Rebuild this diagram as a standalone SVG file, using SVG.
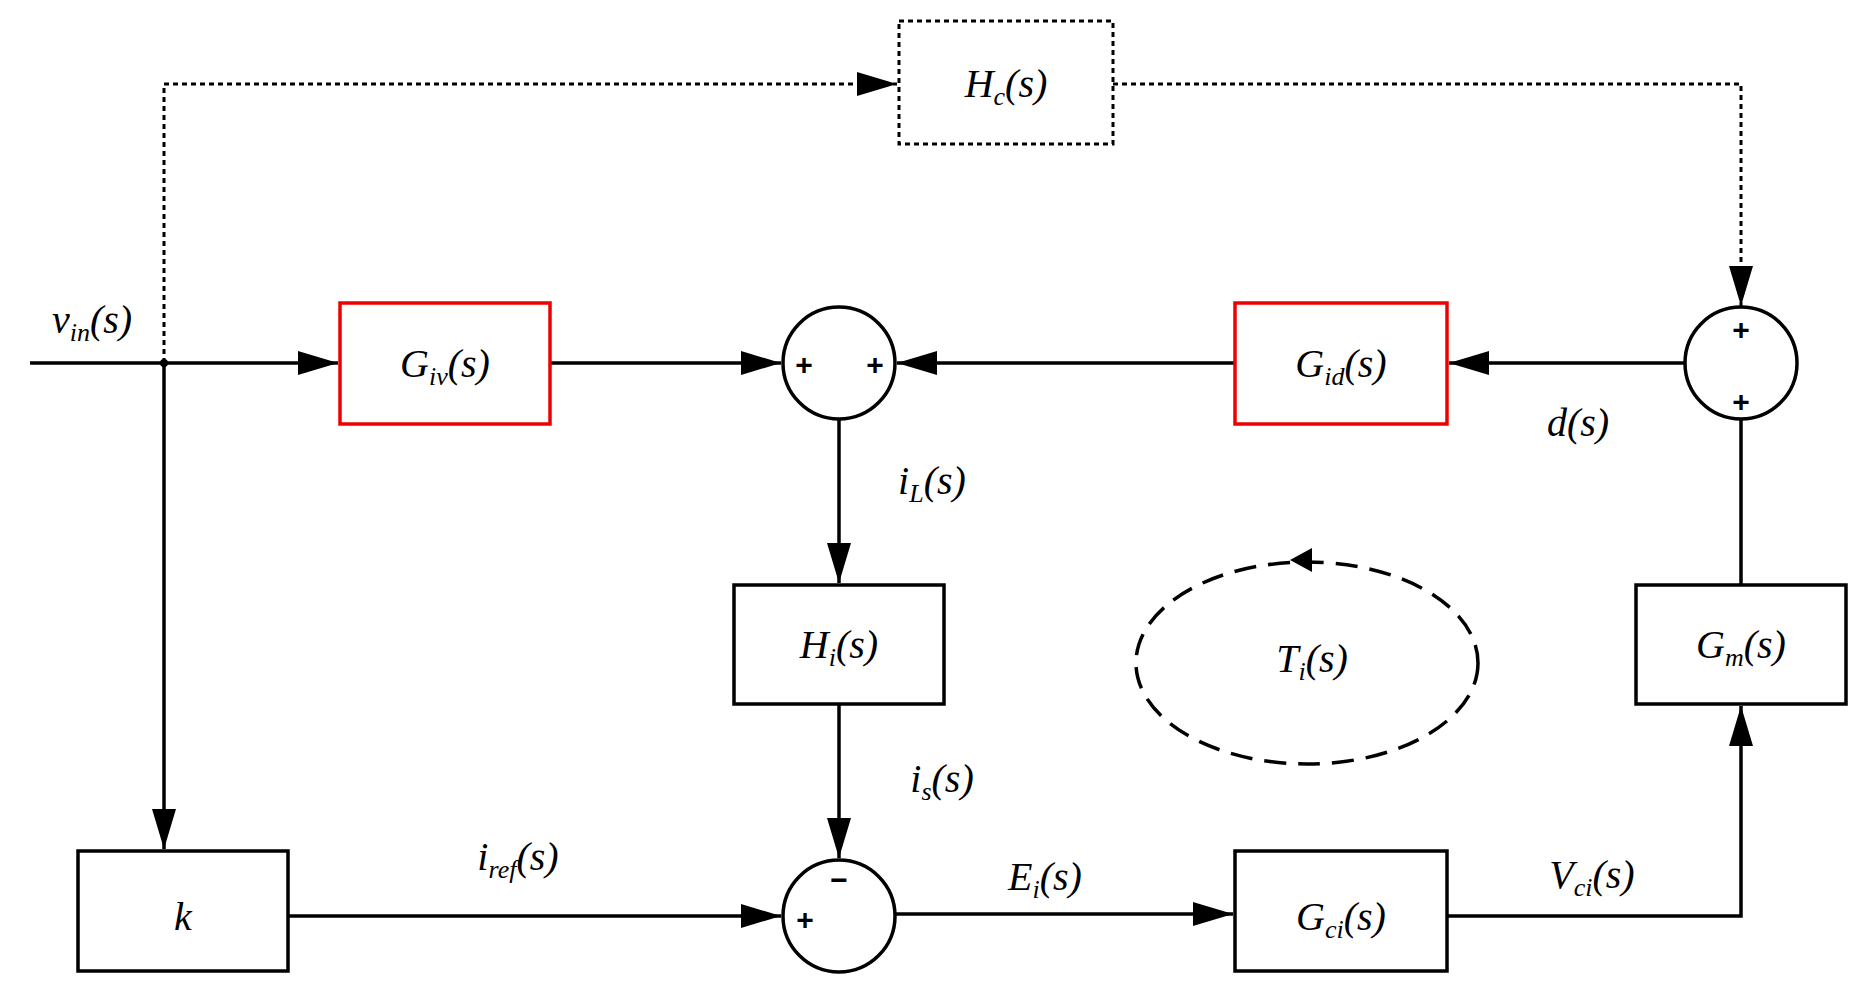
<svg xmlns="http://www.w3.org/2000/svg" width="1863" height="990" viewBox="0 0 1863 990">
<style>
.b{fill:#fff;stroke:#000;stroke-width:3.5}
.r{fill:#fff;stroke:#e00;stroke-width:3.5}
.l{fill:none;stroke:#000;stroke-width:3.5}
.d{fill:none;stroke:#000;stroke-width:3;stroke-dasharray:5 4}
.t{font-family:"Liberation Serif",serif;font-style:italic;font-size:40px;text-anchor:middle}
.s{font-size:26px}
.p{font-family:"Liberation Sans",sans-serif;font-weight:bold;font-size:30px;text-anchor:middle}
</style>
<defs>
<marker id="a" markerWidth="12" markerHeight="10" refX="12" refY="5" orient="auto" markerUnits="userSpaceOnUse" viewBox="0 0 12 10"><path d="M0,0L12,5L0,10z"/></marker>
<marker id="A" markerWidth="40" markerHeight="24" refX="40" refY="12" orient="auto" markerUnits="userSpaceOnUse"><path d="M0,0L40,12L0,24z"/></marker>
</defs>
<g id="connectors">
<path class="d" d="M164,363V84H897" marker-end="url(#A)"/>
<path class="d" d="M1113,84H1741V306" marker-end="url(#A)"/>
<path class="l" d="M30,363H338" marker-end="url(#A)"/>
<circle cx="164" cy="363" r="4"/>
<path class="l" d="M550,363H781" marker-end="url(#A)"/>
<path class="l" d="M1235,363H897" marker-end="url(#A)"/>
<path class="l" d="M1685,363H1449" marker-end="url(#A)"/>
<path class="l" d="M839,419V583" marker-end="url(#A)"/>
<path class="l" d="M839,704V858" marker-end="url(#A)"/>
<path class="l" d="M164,363V849" marker-end="url(#A)"/>
<path class="l" d="M288,916H781" marker-end="url(#A)"/>
<path class="l" d="M895,914H1233" marker-end="url(#A)"/>
<path class="l" d="M1447,916H1741V706" marker-end="url(#A)"/>
<path class="l" d="M1741,585V419"/>
</g>
<g id="Hc"><rect x="899" y="21" width="214" height="123" fill="#fff" stroke="#000" stroke-width="3" stroke-dasharray="5 4"/><text class="t" x="1006" y="97">H<tspan class="s" dy="8">c</tspan><tspan dy="-8">(s)</tspan></text></g>
<g id="Giv"><rect class="r" x="340" y="303" width="210" height="121"/><text class="t" x="445" y="377">G<tspan class="s" dy="8">iv</tspan><tspan dy="-8">(s)</tspan></text></g>
<g id="Gid"><rect class="r" x="1235" y="303" width="212" height="121"/><text class="t" x="1341" y="377">G<tspan class="s" dy="8">id</tspan><tspan dy="-8">(s)</tspan></text></g>
<g id="sum1"><circle class="b" cx="839" cy="363" r="56"/><text class="p" x="804" y="375">+</text><text class="p" x="875" y="375">+</text></g>
<g id="sum2"><circle class="b" cx="1741" cy="363" r="56"/><text class="p" x="1741" y="340">+</text><text class="p" x="1741" y="412">+</text></g>
<g id="sum3"><circle class="b" cx="839" cy="916" r="56"/><text class="p" x="839" y="890">−</text><text class="p" x="805" y="930">+</text></g>
<g id="Hi"><rect class="b" x="734" y="585" width="210" height="119"/><text class="t" x="839" y="658">H<tspan class="s" dy="8">i</tspan><tspan dy="-8">(s)</tspan></text></g>
<g id="Gm"><rect class="b" x="1636" y="585" width="210" height="119"/><text class="t" x="1741" y="658">G<tspan class="s" dy="8">m</tspan><tspan dy="-8">(s)</tspan></text></g>
<g id="k"><rect class="b" x="78" y="851" width="210" height="120"/><text class="t" x="183" y="930">k</text></g>
<g id="Gci"><rect class="b" x="1235" y="851" width="212" height="120"/><text class="t" x="1341" y="930">G<tspan class="s" dy="8">ci</tspan><tspan dy="-8">(s)</tspan></text></g>
<g id="Ti"><ellipse cx="1307" cy="663" rx="171" ry="101" fill="none" stroke="#000" stroke-width="3.5" stroke-dasharray="22 12"/><path d="M1290,560l22,-12v24z"/><text class="t" x="1312" y="672">T<tspan class="s" dy="8">i</tspan><tspan dy="-8">(s)</tspan></text></g>
<g id="labels">
<text class="t" x="92" y="333">v<tspan class="s" dy="8">in</tspan><tspan dy="-8">(s)</tspan></text>
<text class="t" x="1578" y="436">d(s)</text>
<text class="t" x="932" y="494">i<tspan class="s" dy="8">L</tspan><tspan dy="-8">(s)</tspan></text>
<text class="t" x="942" y="792">i<tspan class="s" dy="8">s</tspan><tspan dy="-8">(s)</tspan></text>
<text class="t" x="518" y="870">i<tspan class="s" dy="8">ref</tspan><tspan dy="-8">(s)</tspan></text>
<text class="t" x="1045" y="890">E<tspan class="s" dy="8">i</tspan><tspan dy="-8">(s)</tspan></text>
<text class="t" x="1592" y="888">V<tspan class="s" dy="8">ci</tspan><tspan dy="-8">(s)</tspan></text>
</g>
</svg>
